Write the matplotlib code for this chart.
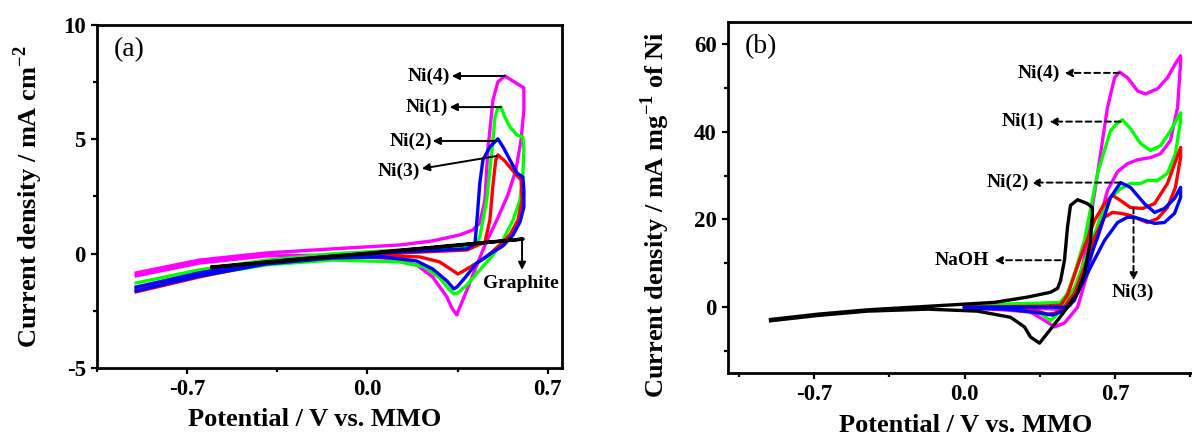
import matplotlib
matplotlib.use("Agg")
import matplotlib.pyplot as plt
import matplotlib.ticker as ticker

plt.rcParams["font.family"] = ["Liberation Serif", "DejaVu Serif"]
plt.rcParams["mathtext.fontset"] = "custom"
plt.rcParams["mathtext.rm"] = "Liberation Serif:bold"
plt.rcParams["mathtext.bf"] = "Liberation Serif:bold"
plt.rcParams["axes.unicode_minus"] = False

# ---------- panel (a): current density per area ----------
a_ni4_x = [-0.898, -0.653, -0.393, -0.136, 0.125, 0.253, 0.358, 0.409, 0.436, 0.456, 0.467, 0.487, 0.506, 0.533, 0.607,
           0.607, 0.596, 0.576, 0.545, 0.502, 0.456, 0.417, 0.378, 0.354, 0.347, 0.327, 0.308, 0.253, 0.191, 0.059,
           -0.136, -0.393, -0.653, -0.898]
a_ni4_y = [-0.84, -0.28, 0.03, 0.21, 0.38, 0.56, 0.82, 1.04, 1.34, 2.35, 4.53, 6.72, 7.51, 7.77, 7.25,
           6.28, 4.97, 3.66, 2.57, 1.47, 0.38, -0.71, -1.81, -2.46, -2.68, -2.37, -1.89, -1.02, -0.49, -0.19,
           -0.06, -0.10, -0.41, -0.97]

a_ni1_x = [-0.898, -0.653, -0.393, -0.136, 0.125, 0.253, 0.386, 0.425, 0.436, 0.463, 0.483, 0.495, 0.506, 0.518, 0.533,
           0.553, 0.580, 0.603, 0.607, 0.603, 0.592, 0.565, 0.526, 0.487, 0.436, 0.386, 0.350, 0.335, 0.312, 0.280,
           0.222, 0.125, -0.136, -0.393, -0.653, -0.898]
a_ni1_y = [-1.28, -0.71, -0.28, -0.01, 0.16, 0.25, 0.29, 0.47, 0.73, 2.35, 4.53, 5.98, 6.37, 6.41, 5.98,
           5.54, 5.19, 5.10, 4.53, 3.44, 2.35, 1.47, 0.60, -0.06, -0.71, -1.37, -1.72, -1.76, -1.50, -1.06,
           -0.58, -0.36, -0.28, -0.49, -0.98, -1.59]

a_ni2_x = [-0.898, -0.653, -0.393, -0.136, 0.125, 0.386, 0.417, 0.424, 0.436, 0.448, 0.475, 0.506, 0.526, 0.553, 0.580,
           0.603, 0.607, 0.607, 0.592, 0.565, 0.526, 0.487, 0.424, 0.378, 0.347, 0.335, 0.308, 0.253, 0.191, 0.059,
           -0.136, -0.393, -0.653, -0.898]
a_ni2_y = [-1.46, -0.84, -0.36, -0.10, 0.07, 0.21, 0.42, 1.34, 3.09, 4.10, 4.67, 5.02, 4.67, 4.10, 3.53,
           3.35, 2.79, 2.04, 1.39, 0.82, 0.34, 0.07, -0.41, -1.06, -1.46, -1.54, -1.19, -0.67, -0.32, -0.14,
           -0.19, -0.45, -0.98, -1.63]

a_ni3_x = [-0.898, -0.653, -0.393, -0.136, 0.125, 0.386, 0.456, 0.475, 0.487, 0.498, 0.506, 0.533, 0.565, 0.596,
           0.600, 0.584, 0.553, 0.514, 0.456, 0.405, 0.366, 0.351, 0.327, 0.280, 0.202, 0.059, -0.136, -0.393,
           -0.653, -0.898]
a_ni3_y = [-1.50, -0.89, -0.41, -0.14, 0.03, 0.16, 0.51, 1.47, 3.00, 4.10, 4.32, 4.05, 3.62, 3.22,
           2.35, 1.47, 0.82, 0.38, -0.19, -0.54, -0.80, -0.89, -0.71, -0.36, -0.14, -0.10, -0.14, -0.41,
           -1.02, -1.67]

a_gr_x = [-0.603, -0.300, 0.0, 0.300, 0.604, 0.300, 0.0, -0.300, -0.603]
a_gr_y = [-0.58, -0.27, 0.02, 0.33, 0.64, 0.31, 0.0, -0.29, -0.60]

# ---------- panel (b): mass activity ----------
b_ni4_x = [0.0, 0.293, 0.447, 0.493, 0.526, 0.558, 0.619, 0.665, 0.698, 0.721, 0.758, 0.805, 0.842, 0.898, 0.944,
           0.981, 1.005, 1.005, 0.991, 0.958, 0.912, 0.865, 0.805, 0.758, 0.712, 0.665, 0.619, 0.572, 0.526, 0.465,
           0.419, 0.372, 0.307, 0.153, 0.0]
b_ni4_y = [-0.2, -0.2, -0.5, 0.45, 5.0, 11.4, 30.5, 45.5, 52.3, 53.6, 52.3, 49.3, 48.6, 49.8, 52.3,
           55.5, 57.3, 55.7, 45.5, 38.0, 35.0, 34.1, 33.6, 32.7, 30.9, 26.6, 18.2, 7.7, 0.0, -3.6,
           -4.5, -3.0, -1.1, -0.5, -0.2]

b_ni1_x = [0.0, 0.340, 0.447, 0.479, 0.516, 0.558, 0.619, 0.679, 0.712, 0.735, 0.772, 0.819, 0.865, 0.912, 0.958,
           1.005, 1.005, 0.981, 0.944, 0.898, 0.851, 0.819, 0.772, 0.726, 0.679, 0.633, 0.572, 0.512, 0.465, 0.419,
           0.400, 0.353, 0.233, 0.0]
b_ni1_y = [0.45, 0.9, 1.1, 3.2, 8.4, 15.2, 30.5, 40.2, 42.0, 42.7, 40.7, 37.3, 35.7, 36.8, 40.2,
           44.3, 42.5, 35.0, 30.5, 28.9, 28.9, 28.2, 28.2, 27.0, 25.0, 20.5, 12.3, 4.5, 0.9, -2.3,
           -3.0, -1.4, -0.2, 0.2]

b_ni2_x = [0.0, 0.340, 0.479, 0.512, 0.558, 0.619, 0.679, 0.726, 0.772, 0.837, 0.884, 0.930, 0.977, 1.005,
           1.005, 0.977, 0.930, 0.884, 0.837, 0.791, 0.758, 0.712, 0.651, 0.586, 0.526, 0.465, 0.409, 0.363, 0.200, 0.0]
b_ni2_y = [0.0, 0.0, 0.0, 1.6, 7.7, 15.9, 25.0, 28.4, 27.3, 23.6, 21.6, 22.5, 24.8, 27.3,
           25.0, 21.4, 19.3, 19.1, 19.8, 20.5, 20.5, 19.3, 15.2, 9.1, 3.2, -0.7, -1.8, -1.4, -0.45, -0.2]

b_ni3_x = [0.0, 0.340, 0.447, 0.479, 0.540, 0.605, 0.651, 0.688, 0.726, 0.772, 0.828, 0.884, 0.944, 1.005,
           1.005, 0.981, 0.944, 0.898, 0.851, 0.805, 0.772, 0.726, 0.688, 0.651, 0.605, 0.558, 0.512, 0.465, 0.419,
           0.386, 0.340, 0.153, 0.0]
b_ni3_y = [0.0, 0.2, 0.45, 2.7, 11.4, 19.8, 23.6, 25.5, 24.3, 22.7, 22.5, 23.6, 28.2, 36.4,
           34.1, 27.3, 22.7, 20.2, 19.3, 20.2, 20.9, 21.4, 21.6, 20.5, 15.9, 9.1, 3.2, 0.0, -1.4,
           -1.6, -0.9, -0.2, 0.0]

b_naoh_x = [-0.902, -0.684, -0.451, -0.172, 0.140, 0.293, 0.400, 0.433, 0.447, 0.465, 0.479, 0.493, 0.526, 0.572, 0.595,
            0.595, 0.586, 0.558, 0.526, 0.479, 0.433, 0.386, 0.349, 0.307, 0.279, 0.214, 0.060, -0.172, -0.451,
            -0.684, -0.902]
b_naoh_y = [-2.8, -1.6, -0.6, 0.2, 1.1, 2.3, 3.4, 4.3, 6.1, 10.7, 18.2, 23.2, 24.5, 23.6, 22.7,
            20.9, 15.2, 7.7, 3.2, 0.0, -3.0, -5.9, -8.2, -6.8, -4.5, -2.3, -0.9, -0.45, -0.9,
            -1.9, -3.1]

MAGENTA = "#ff00ff"
GREEN = "#00ff00"
BLUE = "#0000ff"
RED = "#ff0000"
LW = 2.4

fig = plt.figure(figsize=(11.92, 4.36), dpi=100)
ax1 = fig.add_axes([97 / 1192, (436 - 368) / 436, 465 / 1192, 343 / 436])
ax2 = fig.add_axes([728 / 1192, (436 - 373) / 436, 473 / 1192, 351 / 436])


def style_axes(ax):
    for s in ax.spines.values():
        s.set_linewidth(2.0)
    ax.tick_params(which="major", direction="out", length=4, width=1.6, labelsize=16.5, pad=4)
    ax.tick_params(which="minor", direction="out", length=3, width=1.6)
    for lab in ax.get_xticklabels() + ax.get_yticklabels():
        lab.set_fontweight("bold")


# ===== panel (a) =====
ax1.plot(a_ni4_x, a_ni4_y, color=MAGENTA, lw=LW)
ax1.plot(a_ni1_x, a_ni1_y, color=GREEN, lw=LW)
ax1.plot(a_ni3_x, a_ni3_y, color=RED, lw=LW)
ax1.plot(a_ni2_x, a_ni2_y, color=BLUE, lw=LW)
ax1.plot(a_gr_x, a_gr_y, color="black", lw=LW)

ax1.set_xlim(-1.05, 0.755)
ax1.set_ylim(-5, 10)
ax1.set_xticks([-0.7, 0.0, 0.7])
ax1.set_xticks([-1.05, -0.35, 0.35], minor=True)
ax1.set_yticks([-5, 0, 5, 10])
ax1.set_yticks([-2.5, 2.5, 7.5], minor=True)
ax1.xaxis.set_major_formatter(ticker.FormatStrFormatter("%.1f"))
style_axes(ax1)
ax1.set_xlabel("Potential / V vs. MMO", fontsize=19, fontweight="bold")
ax1.xaxis.set_label_coords(0.469, -0.118)
ax1.set_ylabel("Current density / mA cm$^{-2}$", fontsize=19, fontweight="bold")
ax1.yaxis.set_label_coords(-0.112, 0.5)
ax1.text(0.035, 0.965, "(a)", transform=ax1.transAxes, fontsize=20, va="top", ha="left")

arr_solid = dict(arrowstyle="-|>", color="black", lw=1.4, mutation_scale=11, shrinkA=0, shrinkB=0)
ax1.annotate("", xy=(0.327, 7.77), xytext=(0.533, 7.77), arrowprops=arr_solid)
ax1.text(0.319, 7.77, "Ni(4)", fontsize=14, fontweight="bold", ha="right", va="center")
ax1.annotate("", xy=(0.319, 6.41), xytext=(0.518, 6.41), arrowprops=arr_solid)
ax1.text(0.312, 6.41, "Ni(1)", fontsize=14, fontweight="bold", ha="right", va="center")
ax1.annotate("", xy=(0.253, 4.93), xytext=(0.502, 4.93), arrowprops=arr_solid)
ax1.text(0.249, 4.93, "Ni(2)", fontsize=14, fontweight="bold", ha="right", va="center")
ax1.annotate("", xy=(0.211, 3.72), xytext=(0.502, 4.27), arrowprops=arr_solid)
ax1.text(0.203, 3.62, "Ni(3)", fontsize=14, fontweight="bold", ha="right", va="center")
ax1.annotate("", xy=(0.600, -0.71), xytext=(0.600, 0.62), arrowprops=arr_solid)
ax1.text(0.596, -1.32, "Graphite", fontsize=14, fontweight="bold", ha="center", va="center")

# ===== panel (b) =====
ax2.plot(b_ni4_x, b_ni4_y, color=MAGENTA, lw=LW)
ax2.plot(b_ni1_x, b_ni1_y, color=GREEN, lw=LW)
ax2.plot(b_ni3_x, b_ni3_y, color=RED, lw=LW)
ax2.plot(b_ni2_x, b_ni2_y, color=BLUE, lw=LW)
ax2.plot(b_naoh_x, b_naoh_y, color="black", lw=LW)

ax2.set_xlim(-1.10, 1.10)
ax2.set_ylim(-15, 65)
ax2.set_xticks([-0.7, 0.0, 0.7])
ax2.set_xticks([-1.05, -0.35, 0.35, 1.05], minor=True)
ax2.set_yticks([0, 20, 40, 60])
ax2.set_yticks([-10, 10, 30, 50], minor=True)
ax2.xaxis.set_major_formatter(ticker.FormatStrFormatter("%.1f"))
style_axes(ax2)
ax2.set_xlabel("Potential / V vs. MMO", fontsize=19, fontweight="bold")
ax2.xaxis.set_label_coords(0.503, -0.118)
ax2.set_ylabel("Current density / mA mg$^{-1}$ of Ni", fontsize=19, fontweight="bold")
ax2.yaxis.set_label_coords(-0.118, 0.45)
ax2.text(0.035, 0.965, "(b)", transform=ax2.transAxes, fontsize=20, va="top", ha="left")

arr_dash = dict(arrowstyle="-|>", color="black", lw=1.4, ls=(0, (3, 2)), mutation_scale=11,
                shrinkA=0, shrinkB=0)
ax2.annotate("", xy=(0.465, 53.4), xytext=(0.721, 53.4), arrowprops=arr_dash)
ax2.text(0.442, 53.4, "Ni(4)", fontsize=14, fontweight="bold", ha="right", va="center")
ax2.annotate("", xy=(0.395, 42.3), xytext=(0.726, 42.3), arrowprops=arr_dash)
ax2.text(0.372, 42.3, "Ni(1)", fontsize=14, fontweight="bold", ha="right", va="center")
ax2.annotate("", xy=(0.312, 28.4), xytext=(0.726, 28.4), arrowprops=arr_dash)
ax2.text(0.300, 28.4, "Ni(2)", fontsize=14, fontweight="bold", ha="right", va="center")
ax2.annotate("", xy=(0.140, 10.7), xytext=(0.447, 10.7), arrowprops=arr_dash)
ax2.text(0.116, 10.7, "NaOH", fontsize=14, fontweight="bold", ha="right", va="center")
ax2.annotate("", xy=(0.786, 6.1), xytext=(0.786, 22.7), arrowprops=arr_dash)
ax2.text(0.781, 3.4, "Ni(3)", fontsize=14, fontweight="bold", ha="center", va="center")

fig.savefig("out.png", dpi=100)
